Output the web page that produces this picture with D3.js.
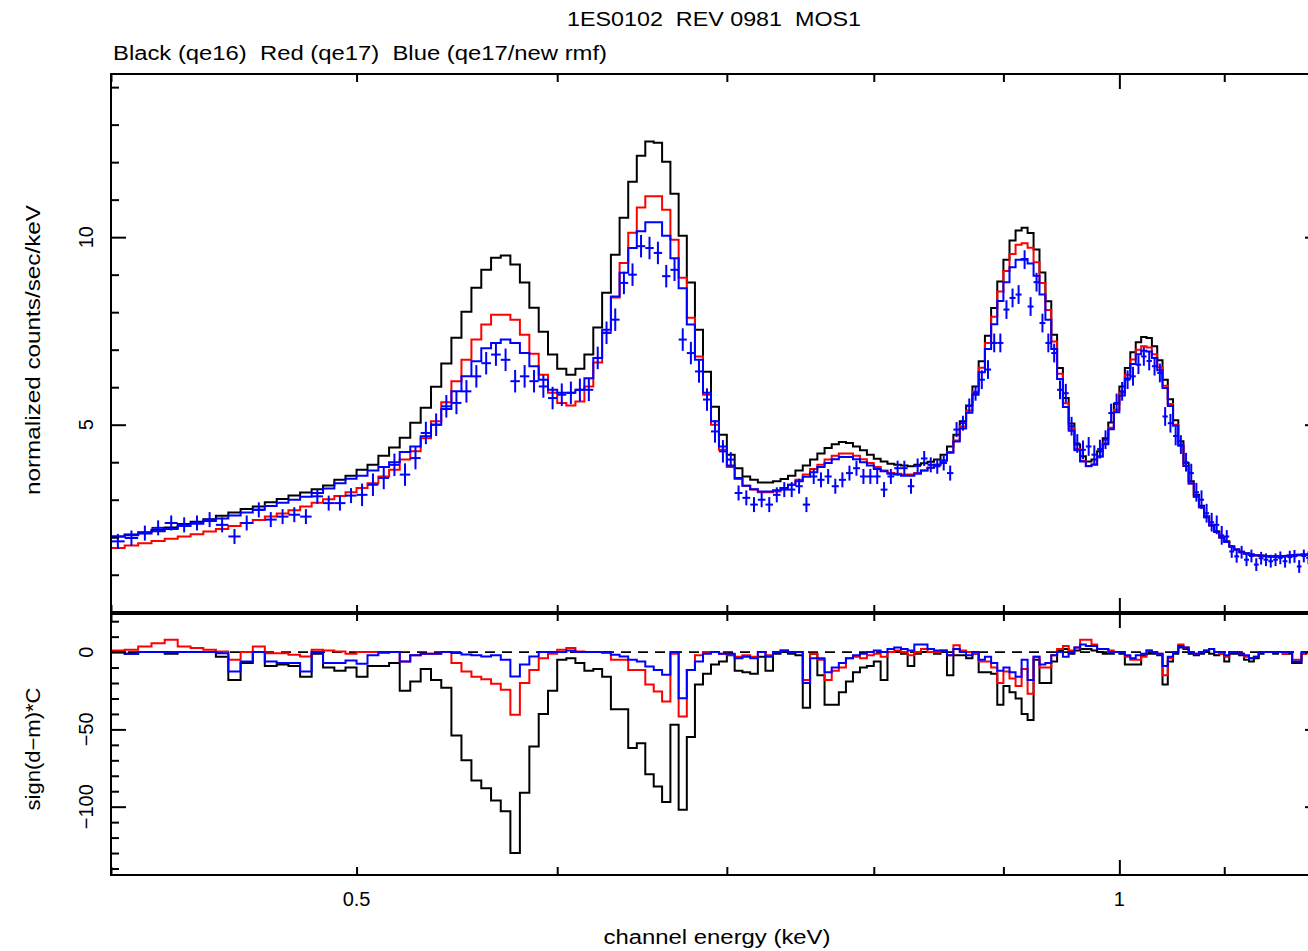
<!DOCTYPE html>
<html>
<head>
<meta charset="utf-8">
<script src="https://cdn.jsdelivr.net/npm/d3@7"></script>
<style>
    body { margin: 0; background: #fff; }
    svg { display: block; font-family: "Liberation Sans", Arial, sans-serif; }
</style>
</head>
<body>
<svg id="chart" width="1308" height="951"></svg>
<script>
// channel grid: 5 eV bins starting at 0.4 keV
const binStart = 0.4;
const binWidth = 0.005;

// normalized counts/sec/keV, one value per bin
const modelQe16 = [
    2.02, 2.07, 2.13, 2.20, 2.26, 2.35, 2.41, 2.48, 2.57, 2.66,
    2.75, 2.82, 2.93, 3.02, 3.11, 3.19, 3.28, 3.38, 3.53, 3.64,
    3.80, 3.93, 4.17, 4.39, 4.65, 5.05, 5.45, 6.01, 6.63, 7.32,
    8.01, 8.65, 9.13, 9.45, 9.51, 9.27, 8.79, 8.12, 7.48, 6.87,
    6.49, 6.33, 6.49, 6.87, 7.59, 8.52, 9.53, 10.52, 11.48, 12.17,
    12.55, 12.52, 12.01, 11.16, 10.04, 8.79, 7.53, 6.41, 5.48, 4.73,
    4.20, 3.84, 3.62, 3.53, 3.46, 3.46, 3.49, 3.55, 3.64, 3.78,
    3.91, 4.07, 4.23, 4.38, 4.48, 4.54, 4.51, 4.42, 4.32, 4.20,
    4.09, 4.02, 3.96, 3.93, 3.91, 3.89, 3.93, 3.97, 4.01, 4.07,
    4.20, 4.42, 4.73, 5.09, 5.51, 6.02, 6.69, 7.37, 8.11, 8.82,
    9.40, 9.91, 10.18, 10.25, 10.11, 9.67, 9.06, 8.29, 7.40, 6.51,
    5.71, 5.03, 4.47, 4.16, 4.02, 4.07, 4.29, 4.64, 5.06, 5.56,
    6.02, 6.51, 6.93, 7.20, 7.34, 7.31, 7.09, 6.72, 6.20, 5.68,
    5.12, 4.56, 3.98, 3.49, 3.13, 2.84, 2.56, 2.33, 2.16, 2.00,
    1.89, 1.75, 1.67, 1.60, 1.56, 1.53, 1.51, 1.50, 1.49, 1.48,
    1.48, 1.48, 1.49, 1.50, 1.51, 1.52, 1.53, 1.53, 1.54, 1.54
];

const modelQe17 = [
    1.71, 1.78, 1.84, 1.90, 1.96, 2.02, 2.08, 2.15, 2.22, 2.30,
    2.38, 2.46, 2.55, 2.63, 2.72, 2.82, 2.92, 3.01, 3.10, 3.20,
    3.31, 3.44, 3.62, 3.80, 4.07, 4.29, 4.64, 5.09, 5.60, 6.16,
    6.73, 7.27, 7.67, 7.93, 7.93, 7.80, 7.40, 6.89, 6.33, 5.85,
    5.58, 5.51, 5.62, 6.02, 6.66, 7.45, 8.39, 9.31, 10.12, 10.79,
    11.09, 11.09, 10.73, 9.93, 8.92, 7.85, 6.82, 5.80, 5.00, 4.33,
    3.87, 3.55, 3.37, 3.27, 3.20, 3.20, 3.22, 3.31, 3.40, 3.53,
    3.67, 3.82, 3.93, 4.07, 4.17, 4.23, 4.23, 4.17, 4.08, 3.98,
    3.87, 3.78, 3.71, 3.69, 3.67, 3.67, 3.71, 3.78, 3.85, 3.93,
    4.05, 4.27, 4.58, 4.95, 5.38, 5.88, 6.52, 7.18, 7.88, 8.55,
    9.10, 9.55, 9.80, 9.84, 9.72, 9.33, 8.78, 8.06, 7.22, 6.36,
    5.57, 4.90, 4.35, 4.03, 3.89, 3.93, 4.15, 4.50, 4.92, 5.40,
    5.85, 6.33, 6.74, 7.00, 7.09, 7.06, 6.88, 6.53, 6.04, 5.55,
    5.00, 4.46, 3.90, 3.43, 3.08, 2.80, 2.53, 2.31, 2.14, 1.99,
    1.88, 1.75, 1.67, 1.61, 1.57, 1.54, 1.52, 1.51, 1.50, 1.49,
    1.49, 1.49, 1.50, 1.51, 1.52, 1.53, 1.54, 1.54, 1.55, 1.55
];

const modelNewRmf = [
    2.02, 2.05, 2.10, 2.16, 2.22, 2.30, 2.36, 2.43, 2.50, 2.58,
    2.66, 2.73, 2.83, 2.92, 3.00, 3.08, 3.18, 3.30, 3.44, 3.56,
    3.64, 3.78, 3.87, 4.00, 4.27, 4.42, 4.69, 5.00, 5.42, 5.89,
    6.29, 6.69, 7.04, 7.18, 7.27, 7.18, 6.91, 6.56, 6.20, 5.93,
    5.85, 5.85, 5.93, 6.24, 6.78, 7.53, 8.42, 9.05, 9.71, 10.16,
    10.40, 10.40, 10.04, 9.44, 8.64, 7.67, 6.73, 5.85, 5.09, 4.42,
    3.91, 3.58, 3.37, 3.28, 3.22, 3.22, 3.25, 3.31, 3.40, 3.49,
    3.61, 3.73, 3.87, 3.98, 4.08, 4.14, 4.14, 4.08, 4.00, 3.91,
    3.82, 3.76, 3.69, 3.67, 3.64, 3.64, 3.69, 3.78, 3.85, 3.93,
    4.04, 4.25, 4.55, 4.90, 5.32, 5.80, 6.40, 7.02, 7.68, 8.30,
    8.80, 9.20, 9.40, 9.42, 9.30, 8.97, 8.47, 7.80, 7.02, 6.22,
    5.47, 4.84, 4.32, 4.02, 3.90, 3.94, 4.15, 4.48, 4.88, 5.33,
    5.78, 6.23, 6.62, 6.88, 6.97, 6.95, 6.78, 6.45, 5.98, 5.50,
    4.97, 4.44, 3.90, 3.43, 3.08, 2.80, 2.53, 2.31, 2.14, 1.99,
    1.87, 1.75, 1.67, 1.61, 1.57, 1.54, 1.52, 1.51, 1.50, 1.49,
    1.49, 1.49, 1.50, 1.51, 1.52, 1.53, 1.54, 1.54, 1.55, 1.55
];

const dataNewRmf = [
    1.89, 1.98, 2.11, 2.25, 2.38, 2.33, 2.38, 2.47, 2.33, 2.02,
    2.38, 2.73, 2.47, 2.55, 2.60, 2.55, 3.09, 2.91, 2.91, 3.11,
    3.13, 3.40, 3.58, 3.93, 3.67, 4.11, 4.78, 5.00, 5.49, 5.58,
    5.89, 6.29, 6.64, 6.87, 6.73, 6.16, 6.29, 6.16, 6.02, 5.71,
    5.80, 5.85, 5.93, 5.93, 6.78, 7.45, 7.80, 8.78, 9.00, 9.76,
    9.71, 9.58, 8.96, 9.13, 7.27, 6.91, 6.42, 5.67, 4.82, 4.29,
    4.07, 3.18, 3.05, 2.87, 3.00, 2.87, 3.13, 3.27, 3.27, 3.36,
    2.87, 3.62, 3.53, 3.62, 3.36, 3.53, 3.71, 3.84, 3.62, 3.62,
    3.62, 3.27, 3.62, 3.84, 3.84, 3.36, 3.90, 4.10, 3.93, 3.89,
    3.98, 3.71, 4.87, 5.04, 5.50, 5.84, 6.20, 6.47, 7.18, 7.18,
    8.07, 8.38, 8.47, 9.40, 8.15, 8.80, 7.71, 7.18, 6.91, 5.93,
    5.84, 4.96, 4.50, 4.33, 4.42, 4.20, 4.35, 4.60, 5.31, 5.58,
    5.89, 6.20, 6.29, 6.60, 6.82, 6.70, 6.56, 6.38, 5.22, 5.04,
    4.70, 4.47, 4.00, 3.71, 3.20, 3.00, 2.64, 2.40, 2.33, 2.05,
    2.02, 1.62, 1.49, 1.60, 1.40, 1.50, 1.27, 1.44, 1.40, 1.36,
    1.40, 1.45, 1.36, 1.47, 1.49, 1.22, 1.50, 1.45, 1.45, 1.42
];

// half height of the error bars, by energy band (upper edge in keV)
const errBands = [
    {upTo: 0.50, err: 0.20},
    {upTo: 0.70, err: 0.30},
    {upTo: 0.88, err: 0.20},
    {upTo: 1.10, err: 0.25},
    {upTo: 1.21, err: 0.17}
];

// residuals, sign(d-m)*C
const resQe16 = [
    0, -1, 0, 0, -1, 0, 0, 0, -3, -18,
    -7, 0, -9, -8, -9, -16, -1, -10, -12, -10,
    -16, -9, -9, -7, -25, -19, -11, -18, -23, -54,
    -70, -83, -88, -96, -103, -130, -91, -61, -40, -25,
    -5, -4, -7, -12, -11, -16, -37, -37, -62, -59,
    -79, -87, -97, -47, -102, -55, -21, -14, -8, -6,
    -2, -12, -13, -14, -3, -12, -1, 0, -1, -2,
    -36, -1, -15, -34, -34, -26, -19, -13, -10, -9,
    -6, -18, 0, 0, -1, -9, -1, 0, 0, -1,
    0, -15, -2, -2, -4, -1, -13, -13, -14, -34,
    -22, -26, -30, -40, -44, -5, -20, -20, -6, 1,
    2, -1, 1, 2, 2, 1, 0, -1, -1, 0,
    -1, -8, -8, -8, -2, -1, -1, -2, -21, -6,
    -1, 3, 2, -1, -2, -1, 0, -1, -2, -1,
    -6, -1, -1, -2, -5, -6, -4, -1, 0, 0,
    -1, 0, -1, -1, -7, -7, -1, 0, 0, 0
];

const resQe17 = [
    1, 1.5, 3.6, 5.8, 8, 3.6, 2.6, 1.5, 0.4, -5,
    0, 3.6, -0.7, -0.7, -1.7, -2.8, 1.5, 1, 0.4, -1,
    0, 0, -0.5, 0, -6, -2, -1, -1, 0, -7,
    -12.5, -16, -17.5, -20.5, -24.4, -40.6, -20, -11.5, -4, -1,
    1.5, 2.6, 0.4, 0, 0, -0.6, -5, -5, -11.5, -11.5,
    -21, -25.5, -32, -1, -41.6, -11.5, -2, 0, 0, -1,
    -1.7, -3, -2, -3, 0, -2, 0, 1, 0, 0,
    -18, -1, -5, -18, -12, -10, -4, -3, -4, -2,
    -1, -3, 0, 1, 0, -2, 0, 2, 0, 0,
    1, -2, 4.5, 1, 0, -1, -6, -6, -10, -20,
    -12.5, -17, -22, -11, -27, -3, -10, -10, -2, 2,
    4, 1, 3, 8, 8, 5, 2, 2, 1, 0,
    0, -3, -5, -5, -3, 1, 0, -1, -15, -4,
    0, 5, 3, 0, -1, 0, 1, 2, 0, -1,
    -3, 0, 0, -1, -3, -4, -3, 0, 0, 0,
    0, 0, -1, 0, -5, -5, -1, 0, 0, 0
];

const resNewRmf = [
    0, -1, 0, 0, 0, 0, 0, 0, -0.7, -12.5,
    -6, 0, -6, -7, -7, -12.5, 0, -7, -7, -5.4,
    -7.6, -2, 0, 0, -6, -2, -1, -1, 0, -0.6,
    -1.5, -2, -2.8, -2, -5, -15.8, -8, -2.8, 0, 0,
    0, 1, 0, 0, 0, 0, -1.7, -2.8, -5, -6,
    -9.3, -11.5, -14.7, 0, -29.8, -11.5, -6, -1, 0, -1,
    -1, -4, -3, -4, 0, -3, 0, 1, 0, 0,
    -20, -4, -4, -13, -10, -7, -4, -2, -1, 0,
    1, 0, 2, 3, 2, 1, 5, 5, 2, 1,
    1, -2, 2, 0, -2, 0, -5, -3, -7, -12,
    -10, -13, -16, -5, -18, -3, -8, -7, -2, 0,
    -3, 0, 3, 5, 4, 4, 2, 2, 0, 0,
    0, -2, -4, -2, -1, 1, 0, -1, -9, -3,
    0, 4, 3, 0, -1, 0, 1, 2, 0, 0,
    -2, 0, 0, -1, -2, -4, -3, 0, 0, 0,
    0, 0, 0, 0, -6, -6, 0, 0, 0, 0
];

// tick values
const xLabelTicks = [0.5, 1];
const xMajorTicks = [1];
const xMinorTicks = [0.4, 0.5, 0.6, 0.7, 0.8, 0.9, 1.1, 1.2];
const yTopMajor = [5, 10];
const yTopMinor = [1, 2, 3, 4, 6, 7, 8, 9, 11, 12, 13, 14];
const yResMajor = [0, -50, -100];
const yResMinor = [20, 10, -10, -20, -30, -40, -60, -70, -80, -90, -110, -120, -130, -140];

const titleText = "1ES0102  REV 0981  MOS1";
const subtitleText = "Black (qe16)  Red (qe17)  Blue (qe17/new rmf)";

// layout
const left = 111, right = 1320;
const topY = 74, midY = 613, botY = 875;

const svg = d3.select("#chart");

const x = d3.scaleLog().domain([0.4, 1.2]).range([left, right]);
const yTop = d3.scaleLinear().domain([-0.02, 14.35]).range([midY, topY]);
const yRes = d3.scaleLinear().domain([-144.2, 25.3]).range([botY, midY]);

const edges = d3.range(modelQe16.length + 1).map(i => binStart + i * binWidth);

const defs = svg.append("defs");
defs.append("clipPath").attr("id", "clipTop")
    .append("rect").attr("x", left).attr("y", topY).attr("width", right - left).attr("height", midY - topY);
defs.append("clipPath").attr("id", "clipRes")
    .append("rect").attr("x", left).attr("y", midY).attr("width", right - left).attr("height", botY - midY);

function stepPoints(values) {
    const pts = values.map((v, i) => [edges[i], v]);
    pts.push([edges[values.length], values[values.length - 1]]);
    return pts;
}

const topLine = d3.line().x(d => x(d[0])).y(d => yTop(d[1])).curve(d3.curveStepAfter);
const resLine = d3.line().x(d => x(d[0])).y(d => yRes(d[1])).curve(d3.curveStepAfter);

// top panel: models
const topG = svg.append("g").attr("clip-path", "url(#clipTop)");
[[modelQe16, "#000"], [modelQe17, "#ff0000"], [modelNewRmf, "#0000ff"]].forEach(([vals, col]) => {
    topG.append("path")
        .datum(stepPoints(vals))
        .attr("d", topLine)
        .style("fill", "none")
        .style("stroke", col)
        .style("stroke-width", 2);
});

// data crosses
const errFor = e => errBands.find(b => e <= b.upTo).err;
const crosses = topG.append("g").style("stroke", "#0000ff").style("stroke-width", 2);
dataNewRmf.forEach((v, i) => {
    const lo = edges[i], hi = edges[i + 1], mid = (lo + hi) / 2;
    const err = errFor(mid);
    crosses.append("line")
        .attr("x1", x(lo)).attr("x2", x(hi))
        .attr("y1", yTop(v)).attr("y2", yTop(v));
    crosses.append("line")
        .attr("x1", x(mid)).attr("x2", x(mid))
        .attr("y1", yTop(v - err)).attr("y2", yTop(v + err));
});

// residual panel
const resG = svg.append("g").attr("clip-path", "url(#clipRes)");
resG.append("line")
    .attr("x1", left).attr("x2", right)
    .attr("y1", yRes(0)).attr("y2", yRes(0))
    .style("stroke", "#000")
    .style("stroke-width", 1.6)
    .style("stroke-dasharray", "10,7");
[[resQe16, "#000"], [resQe17, "#ff0000"], [resNewRmf, "#0000ff"]].forEach(([vals, col]) => {
    resG.append("path")
        .datum(stepPoints(vals))
        .attr("d", resLine)
        .style("fill", "none")
        .style("stroke", col)
        .style("stroke-width", 2);
});

// axes (ticks pointing inward)
function addAxis(axis, tx, ty, size) {
    const g = svg.append("g")
        .attr("transform", `translate(${tx},${ty})`)
        .call(axis.tickSize(-size).tickSizeOuter(0).tickFormat(""));
    g.select(".domain").remove();
    g.selectAll(".tick line").style("stroke", "#000").style("stroke-width", 2);
}

[[xMinorTicks, 8], [xMajorTicks, 15]].forEach(([vals, size]) => {
    addAxis(d3.axisTop(x).tickValues(vals), 0, topY, size);
    addAxis(d3.axisBottom(x).tickValues(vals), 0, midY, size);
    addAxis(d3.axisTop(x).tickValues(vals), 0, midY, size);
    addAxis(d3.axisBottom(x).tickValues(vals), 0, botY, size);
});
[[yTopMinor, 8], [yTopMajor, 15]].forEach(([vals, size]) => {
    addAxis(d3.axisLeft(yTop).tickValues(vals), left, 0, size);
    addAxis(d3.axisRight(yTop).tickValues(vals), right, 0, size);
});
[[yResMinor, 8], [yResMajor, 15]].forEach(([vals, size]) => {
    addAxis(d3.axisLeft(yRes).tickValues(vals), left, 0, size);
    addAxis(d3.axisRight(yRes).tickValues(vals), right, 0, size);
});

// frames
svg.append("rect")
    .attr("x", left).attr("y", topY)
    .attr("width", right - left).attr("height", botY - topY)
    .style("fill", "none").style("stroke", "#000").style("stroke-width", 2);
svg.append("line")
    .attr("x1", left).attr("x2", right)
    .attr("y1", midY).attr("y2", midY)
    .style("stroke", "#000").style("stroke-width", 4);

// labels
const text = svg.append("g").style("font-size", "20px").style("fill", "#000");

xLabelTicks.forEach(v => {
    text.append("text")
        .attr("x", x(v)).attr("y", 906)
        .attr("text-anchor", "middle")
        .text(v);
});

yTopMajor.forEach(v => {
    text.append("text")
        .attr("transform", `translate(93,${yTop(v)}) rotate(-90)`)
        .attr("text-anchor", "middle")
        .text(v);
});
yResMajor.forEach(v => {
    text.append("text")
        .attr("transform", `translate(93,${yRes(v)}) rotate(-90)`)
        .attr("text-anchor", "middle")
        .text(v < 0 ? "\u2212" + Math.abs(v) : v);
});

text.append("text")
    .attr("x", 714).attr("y", 26)
    .attr("text-anchor", "middle")
    .style("white-space", "pre")
    .attr("textLength", 294).attr("lengthAdjust", "spacingAndGlyphs")
    .text(titleText);
text.append("text")
    .attr("x", 113).attr("y", 60)
    .style("white-space", "pre")
    .attr("textLength", 494).attr("lengthAdjust", "spacingAndGlyphs")
    .text(subtitleText);
text.append("text")
    .attr("x", 717).attr("y", 944)
    .attr("text-anchor", "middle")
    .attr("textLength", 227).attr("lengthAdjust", "spacingAndGlyphs")
    .text("channel energy (keV)");
text.append("text")
    .attr("transform", "translate(40,350) rotate(-90)")
    .attr("text-anchor", "middle")
    .attr("textLength", 290).attr("lengthAdjust", "spacingAndGlyphs")
    .text("normalized counts/sec/keV");
text.append("text")
    .attr("transform", "translate(40,749) rotate(-90)")
    .attr("text-anchor", "middle")
    .attr("textLength", 123).attr("lengthAdjust", "spacingAndGlyphs")
    .text("sign(d\u2212m)*C");
</script>
</body>
</html>
